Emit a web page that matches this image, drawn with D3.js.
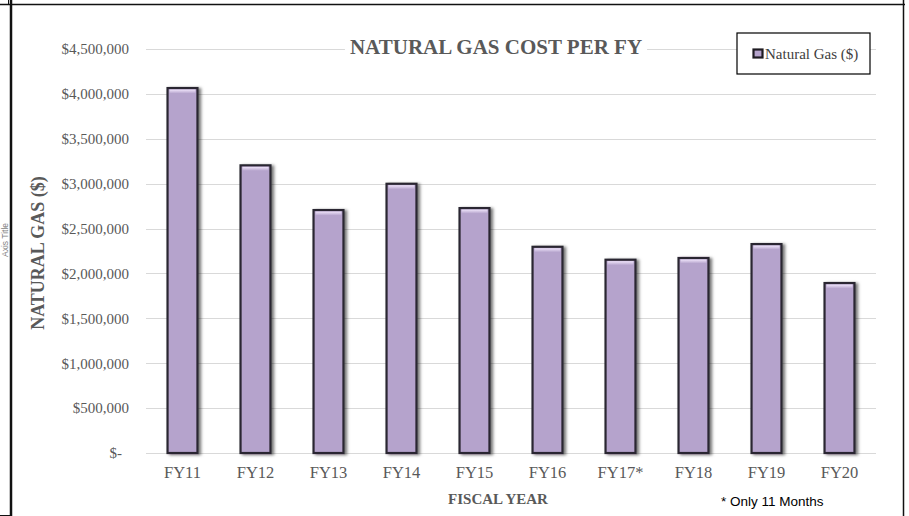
<!DOCTYPE html>
<html>
<head>
<meta charset="utf-8">
<script src="https://cdn.jsdelivr.net/npm/d3@7"></script>
<style>
	body { margin: 0; background: #fff; }
	svg { display: block; }
</style>
</head>
<body>
<script>

// data
var fiscalYears = ["FY11", "FY12", "FY13", "FY14", "FY15", "FY16", "FY17*", "FY18", "FY19", "FY20"];
var gasCost = [4065000, 3204000, 2706000, 2999000, 2728000, 2297000, 2153000, 2172000, 2327000, 1893000];
var yTicks = [0, 500000, 1000000, 1500000, 2000000, 2500000, 3000000, 3500000, 4000000, 4500000];

var width = 909, height = 516;
var plot = { left: 146, right: 876, top: 49, bottom: 453 };

var svg = d3.select("body").append("svg")
	.attr("width", width)
	.attr("height", height);

var defs = svg.append("defs");

// drop shadow for the bars
var shadow = defs.append("filter")
	.attr("id", "shadow")
	.attr("x", "-30%").attr("y", "-10%")
	.attr("width", "160%").attr("height", "120%");
shadow.append("feDropShadow")
	.attr("dx", 2.5).attr("dy", 1)
	.attr("stdDeviation", 1.4)
	.attr("flood-color", "#000")
	.attr("flood-opacity", 0.55);

// top highlight on the bars
var shine = defs.append("linearGradient")
	.attr("id", "shine")
	.attr("x1", 0).attr("y1", 0).attr("x2", 0).attr("y2", 1);
shine.append("stop").attr("offset", "0%").attr("stop-color", "#efe4fa");
shine.append("stop").attr("offset", "100%").attr("stop-color", "#b5a3cc");

// scales
var x = d3.scaleBand()
	.domain(fiscalYears)
	.range([plot.left, plot.right])
	.paddingInner(0.59)
	.paddingOuter(0.295);

var y = d3.scaleLinear()
	.domain([0, 4500000])
	.range([plot.bottom, plot.top]);

var money = d3.format("$,.0f");

// gridlines
svg.append("g")
	.selectAll("line")
	.data(yTicks)
	.join("line")
	.attr("x1", plot.left)
	.attr("x2", plot.right)
	.attr("y1", function (d) { return Math.round(y(d)) + 0.5; })
	.attr("y2", function (d) { return Math.round(y(d)) + 0.5; })
	.style("stroke", "#d9d9d9")
	.style("stroke-width", 1);

// y axis labels
var yAxis = svg.append("g")
	.attr("transform", "translate(" + plot.left + ",0)")
	.call(d3.axisLeft(y)
		.tickValues(yTicks)
		.tickSize(0)
		.tickPadding(17)
		.tickFormat(function (d) { return d === 0 ? "$-" : money(d); }));
yAxis.select(".domain").remove();
yAxis.attr("font-family", null).attr("font-size", null);
yAxis.selectAll("text")
	.attr("dx", function (d) { return d === 0 ? -7 : 0; })
	.style("font-family", "'Liberation Serif', 'Times New Roman', serif")
	.style("font-size", "15px")
	.style("fill", "#595959");

// x axis labels
var xAxis = svg.append("g")
	.attr("transform", "translate(0," + plot.bottom + ")")
	.call(d3.axisBottom(x).tickSize(0).tickPadding(13));
xAxis.select(".domain").remove();
xAxis.attr("font-family", null).attr("font-size", null);
xAxis.selectAll("text")
	.style("font-family", "'Liberation Serif', 'Times New Roman', serif")
	.style("font-size", "16.5px")
	.style("fill", "#595959");

// bars
var bars = svg.append("g")
	.selectAll("g")
	.data(fiscalYears)
	.join("g");

bars.append("rect")
	.attr("x", function (d) { return x(d); })
	.attr("y", function (d, i) { return y(gasCost[i]); })
	.attr("width", x.bandwidth())
	.attr("height", function (d, i) { return y(0) - y(gasCost[i]); })
	.style("fill", "#b5a3cc")
	.style("stroke", "#2a2630")
	.style("stroke-width", 2.2)
	.attr("filter", "url(#shadow)");

bars.append("rect")
	.attr("x", function (d) { return x(d) + 2; })
	.attr("y", function (d, i) { return y(gasCost[i]) + 1.5; })
	.attr("width", x.bandwidth() - 4)
	.attr("height", 4)
	.style("fill", "url(#shine)");

// title with white backing over the top gridline
var titleBack = svg.append("rect").style("fill", "#fff");
var title = svg.append("text")
	.attr("x", 496)
	.attr("y", 54)
	.attr("text-anchor", "middle")
	.style("font-family", "'Liberation Serif', 'Times New Roman', serif")
	.style("font-weight", "bold")
	.style("font-size", "21px")
	.style("fill", "#595959")
	.text("NATURAL GAS COST PER FY");
var tb = title.node().getBBox();
titleBack
	.attr("x", tb.x - 5)
	.attr("y", tb.y)
	.attr("width", tb.width + 10)
	.attr("height", tb.height);

// legend
var legend = svg.append("g").attr("transform", "translate(737,33)");
legend.append("rect")
	.attr("width", 133)
	.attr("height", 41)
	.style("fill", "#fff")
	.style("stroke", "#000")
	.style("stroke-width", 1.2);
legend.append("rect")
	.attr("x", 16.5).attr("y", 16.5)
	.attr("width", 9).attr("height", 8)
	.style("fill", "#b5a3cc")
	.style("stroke", "#1e1b22")
	.style("stroke-width", 2.2);
legend.append("text")
	.attr("x", 28)
	.attr("y", 26)
	.style("font-family", "'Liberation Serif', 'Times New Roman', serif")
	.style("font-size", "15px")
	.style("fill", "#404040")
	.text("Natural Gas ($)");

// axis titles
svg.append("text")
	.attr("transform", "translate(44,253) rotate(-90)")
	.attr("text-anchor", "middle")
	.style("font-family", "'Liberation Serif', 'Times New Roman', serif")
	.style("font-weight", "bold")
	.style("font-size", "18px")
	.style("fill", "#595959")
	.text("NATURAL GAS ($)");

svg.append("text")
	.attr("x", 498)
	.attr("y", 504)
	.attr("text-anchor", "middle")
	.style("font-family", "'Liberation Serif', 'Times New Roman', serif")
	.style("font-weight", "bold")
	.style("font-size", "15px")
	.style("fill", "#595959")
	.text("FISCAL YEAR");

svg.append("text")
	.attr("transform", "translate(7.5,240) rotate(-90)")
	.attr("text-anchor", "middle")
	.style("font-family", "'Liberation Sans', Arial, sans-serif")
	.style("font-size", "8.5px")
	.style("fill", "#7f7f7f")
	.text("Axis Title");

svg.append("text")
	.attr("x", 721)
	.attr("y", 506)
	.style("font-family", "'Liberation Sans', Arial, sans-serif")
	.style("font-size", "13.5px")
	.style("fill", "#000")
	.text("* Only 11 Months");

// frame lines of the page the chart sat on
var frame = svg.append("g").style("stroke", "#111").style("fill", "none");
frame.append("line").attr("x1", 0).attr("x2", 905).attr("y1", 4.5).attr("y2", 4.5).style("stroke-width", 1.5);
frame.append("line").attr("x1", 11).attr("x2", 11).attr("y1", 0).attr("y2", 516).style("stroke-width", 2.5);
frame.append("line").attr("x1", 8.5).attr("x2", 8.5).attr("y1", 0).attr("y2", 4.5).style("stroke-width", 1);
frame.append("line").attr("x1", 0).attr("x2", 11).attr("y1", 515.5).attr("y2", 515.5).style("stroke-width", 1);
frame.append("line").attr("x1", 903.5).attr("x2", 903.5).attr("y1", 0).attr("y2", 516).style("stroke-width", 1.5);

</script>
</body>
</html>
